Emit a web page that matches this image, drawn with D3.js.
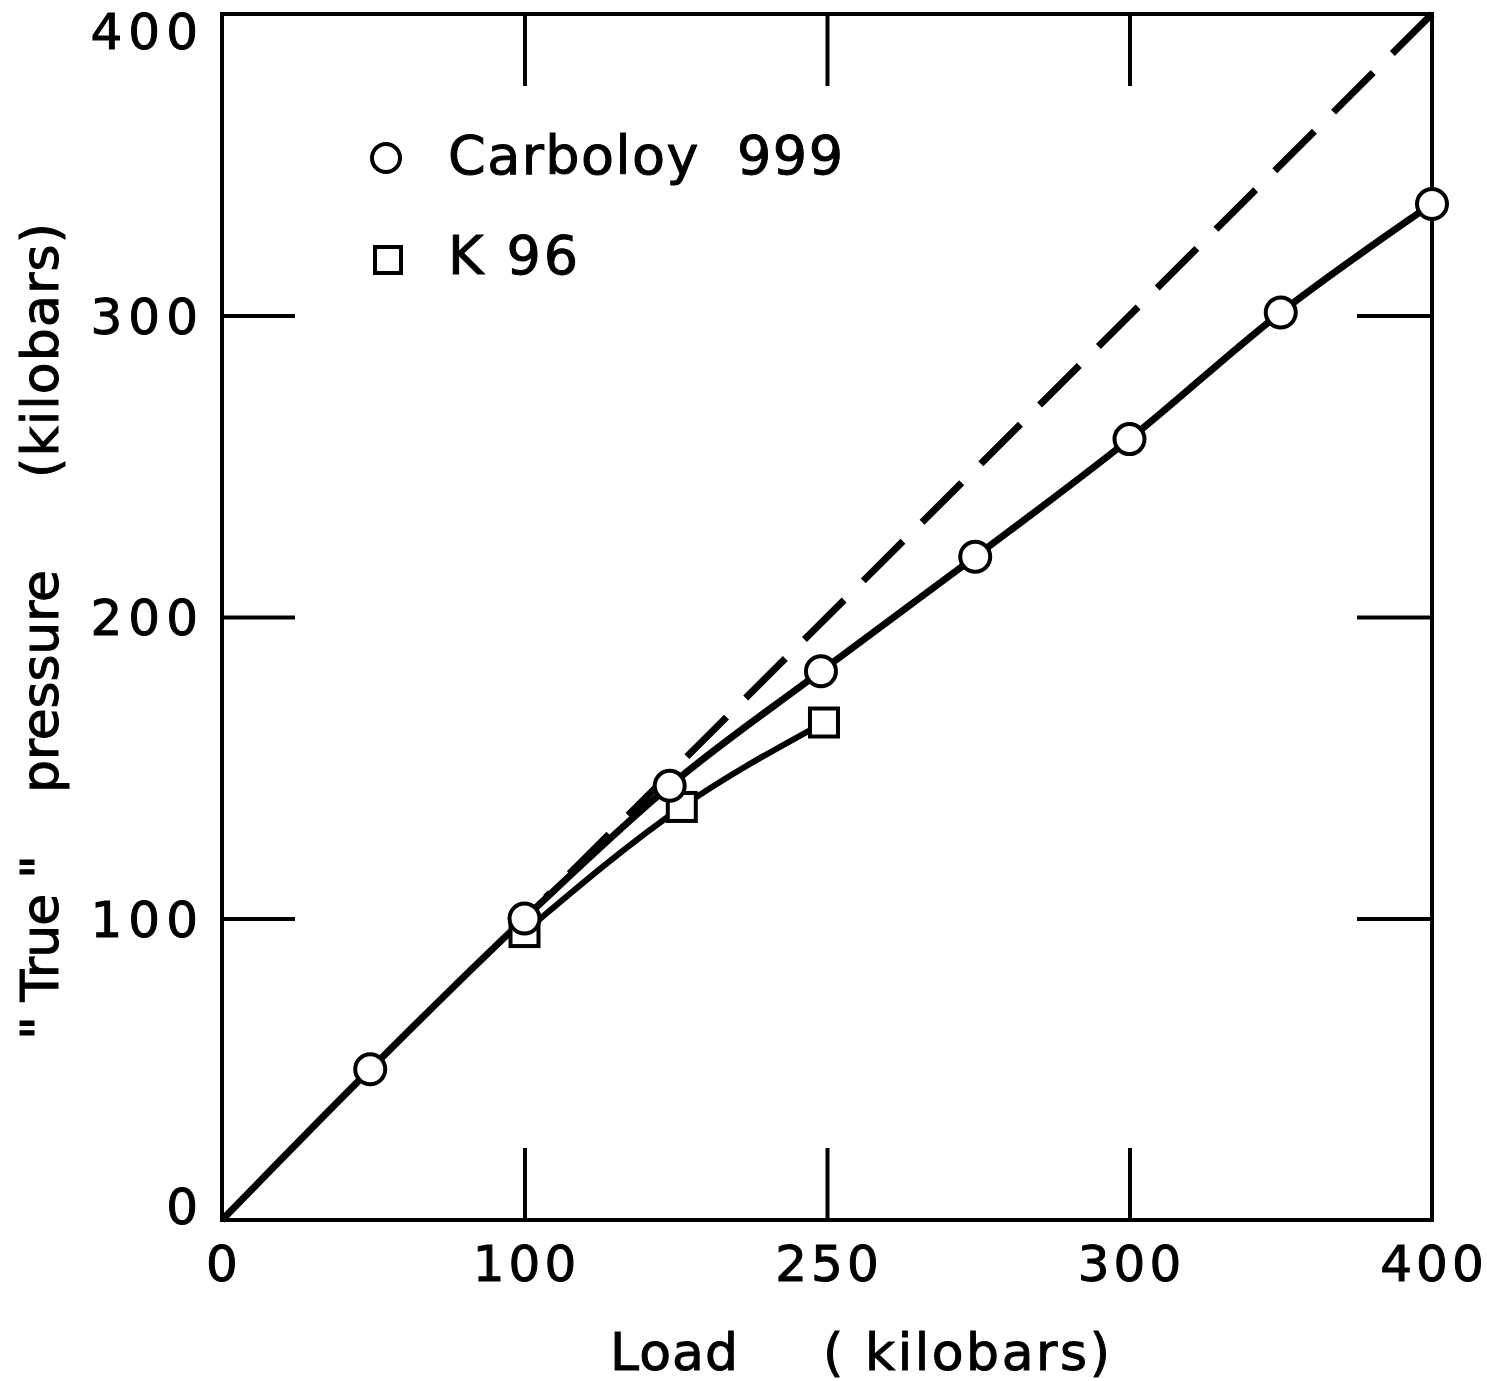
<!DOCTYPE html>
<html>
<head>
<meta charset="utf-8">
<script src="https://cdn.jsdelivr.net/npm/d3@7"></script>
<style>
  body { margin: 0; background: #fff; }
  svg text { font-family: "DejaVu Sans", sans-serif; fill: #000; stroke: #000; stroke-width: 1px; white-space: pre; }
</style>
</head>
<body>
<div id="chart"></div>
<script>
var width = 1487,
    height = 1381;

// Carboloy 999 (circles)
var carbolyLoad = [0, 49, 100, 148, 198, 249, 300, 350, 400];
var carbolyTrue = [0, 50, 100, 144, 182, 220, 259, 301, 337];

// K 96 (squares)
var k96Load = [100, 152, 199];
var k96True = [95.5, 137, 165];

// ideal line, true = load (drawn from the top corner down)
var idealLoad = [400, 107];

var tickValues = [0, 100, 200, 300, 400];
var xTickLabels = ["0", "100", "250", "300", "400"];
var yTickLabels = ["0", "100", "200", "300", "400"];

var x = d3.scaleLinear().domain([0, 400]).range([222, 1432]);
var y = d3.scaleLinear().domain([0, 400]).range([1220, 14]);

var svg = d3.select('#chart')
    .append('svg')
    .attr('width', width)
    .attr('height', height);

// frame
svg.append('rect')
    .attr('x', x(0))
    .attr('y', y(400))
    .attr('width', x(400) - x(0))
    .attr('height', y(0) - y(400))
    .style('fill', 'none')
    .style('stroke', '#000')
    .style('stroke-width', 4);

// inward ticks on all four sides
var inner = [100, 200, 300];
function styleTicks(g) {
    g.select('.domain').remove();
    g.selectAll('line').style('stroke', '#000').style('stroke-width', 4);
    g.selectAll('text').remove();
}
svg.append('g').attr('transform', 'translate(0,' + y(0) + ')')
    .call(d3.axisBottom(x).tickValues(inner).tickSize(-72)).call(styleTicks);
svg.append('g').attr('transform', 'translate(0,' + y(400) + ')')
    .call(d3.axisTop(x).tickValues(inner).tickSize(-72)).call(styleTicks);
svg.append('g').attr('transform', 'translate(' + x(0) + ',0)')
    .call(d3.axisLeft(y).tickValues(inner).tickSize(-73)).call(styleTicks);
svg.append('g').attr('transform', 'translate(' + x(400) + ',0)')
    .call(d3.axisRight(y).tickValues(inner).tickSize(-75)).call(styleTicks);

// tick labels
svg.append('g').selectAll('text')
    .data(tickValues)
    .enter().append('text')
    .attr('x', function (d) { return x(d) + 2; })
    .attr('y', y(0) + 61)
    .attr('text-anchor', 'middle')
    .style('font-size', '50px')
    .style('letter-spacing', '4px')
    .text(function (d, i) { return xTickLabels[i]; });

svg.append('g').selectAll('text')
    .data(tickValues)
    .enter().append('text')
    .attr('x', x(0) - 18)
    .attr('y', function (d) {
        if (d === 400) return y(d) + 35;
        if (d === 0) return y(d) + 4;
        return y(d) + 18;
    })
    .attr('text-anchor', 'end')
    .style('font-size', '50px')
    .style('letter-spacing', '6px')
    .text(function (d, i) { return yTickLabels[i]; });

// axis titles
var xTitle = [["Load", 610, 128], ["( kilobars)", 823, 287]];
svg.append('g').selectAll('text')
    .data(xTitle)
    .enter().append('text')
    .attr('x', function (d) { return d[1]; })
    .attr('y', 1370)
    .attr('textLength', function (d) { return d[2]; })
    .attr('lengthAdjust', 'spacing')
    .style('font-size', '52px')
    .text(function (d) { return d[0]; });

// y title words: [text, bottom end, top end]
var yTitle = [['" True "', 1040, 855], ['pressure', 793, 570], ['(kilobars)', 478, 223]];
svg.append('g').selectAll('text')
    .data(yTitle)
    .enter().append('text')
    .attr('transform', function (d) { return 'translate(58,' + d[1] + ') rotate(-90)'; })
    .attr('textLength', function (d) { return d[1] - d[2]; })
    .attr('lengthAdjust', 'spacing')
    .style('font-size', '52px')
    .text(function (d) { return d[0]; });

// dashed ideal line
var line = d3.line()
    .x(function (d) { return x(d[0]); })
    .y(function (d) { return y(d[1]); });

svg.append('path')
    .datum(idealLoad.map(function (d) { return [d, d]; }))
    .attr('d', line)
    .style('fill', 'none')
    .style('stroke', '#000')
    .style('stroke-width', 7)
    .style('stroke-dasharray', '56,27');

var curve = d3.line()
    .curve(d3.curveMonotoneX)
    .x(function (d) { return x(d[0]); })
    .y(function (d) { return y(d[1]); });

var carboly = carbolyLoad.map(function (d, i) { return [d, carbolyTrue[i]]; });
var k96 = k96Load.map(function (d, i) { return [d, k96True[i]]; });

svg.append('path')
    .datum(carboly)
    .attr('d', curve)
    .style('fill', 'none')
    .style('stroke', '#000')
    .style('stroke-width', 7);

svg.append('path')
    .datum(k96)
    .attr('d', curve)
    .style('fill', 'none')
    .style('stroke', '#000')
    .style('stroke-width', 6);

// markers
svg.append('g').selectAll('rect')
    .data(k96)
    .enter().append('rect')
    .attr('x', function (d) { return x(d[0]) - 14; })
    .attr('y', function (d) { return y(d[1]) - 14; })
    .attr('width', 28)
    .attr('height', 28)
    .style('fill', '#fff')
    .style('stroke', '#000')
    .style('stroke-width', 4);

svg.append('g').selectAll('circle')
    .data(carboly.slice(1))
    .enter().append('circle')
    .attr('cx', function (d) { return x(d[0]); })
    .attr('cy', function (d) { return y(d[1]); })
    .attr('r', 15)
    .style('fill', '#fff')
    .style('stroke', '#000')
    .style('stroke-width', 4);

// legend
var legend = svg.append('g');
legend.append('circle')
    .attr('cx', 386).attr('cy', 158).attr('r', 14)
    .style('fill', '#fff').style('stroke', '#000').style('stroke-width', 4);
legend.append('rect')
    .attr('x', 375).attr('y', 247).attr('width', 26).attr('height', 26)
    .style('fill', '#fff').style('stroke', '#000').style('stroke-width', 4);
legend.append('text')
    .attr('x', 448).attr('y', 174)
    .attr('textLength', 395)
    .attr('lengthAdjust', 'spacing')
    .style('font-size', '54px')
    .text('Carboloy  999');
legend.append('text')
    .attr('x', 448).attr('y', 274)
    .attr('textLength', 130)
    .attr('lengthAdjust', 'spacing')
    .style('font-size', '54px')
    .text('K 96');
</script>
</body>
</html>
